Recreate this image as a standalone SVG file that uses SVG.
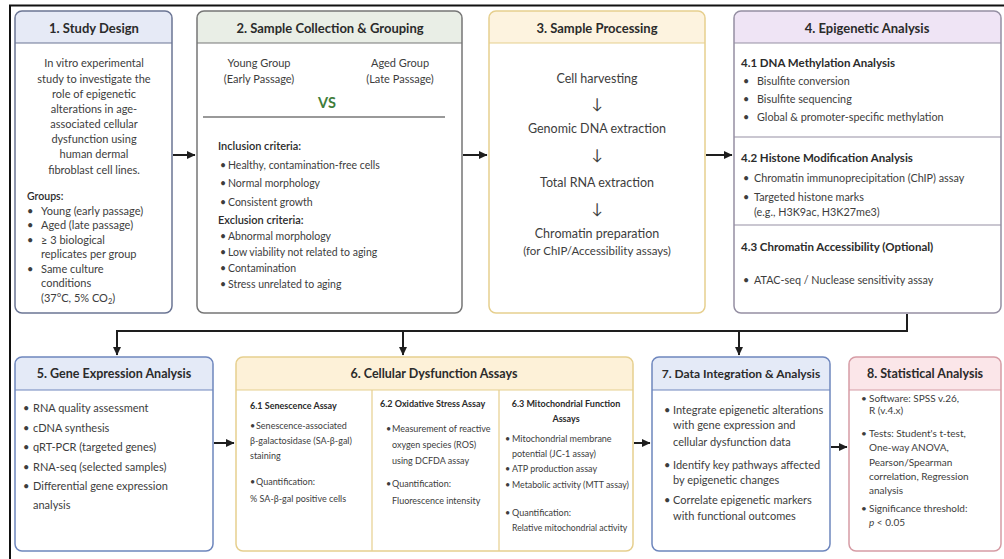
<svg xmlns="http://www.w3.org/2000/svg" width="1004" height="559" viewBox="0 0 1004 559">
<defs>
<marker id="ah" markerUnits="userSpaceOnUse" markerWidth="9" markerHeight="9" refX="8" refY="4.5" orient="auto">
<path d="M0,0.5 L8.5,4.5 L0,8.5 z" fill="#1e1e1e"/>
</marker>
<style>
text{font-family:Lato,"Open Sans","Liberation Sans",sans-serif;fill:#3d3d3d}
.ti{font-size:13px;font-weight:bold;fill:#2b2b2b;text-anchor:middle}
.tb{font-size:12.5px;font-weight:bold;fill:#2b2b2b;text-anchor:middle}
.c{text-anchor:middle}
.b1{font-size:11px}
.b2{font-size:10.5px}
.b3{font-size:12.5px}
.b4{font-size:10.8px}
.b5{font-size:11px}
.b7{font-size:11px}
.b8{font-size:10px}
.b6{font-size:9px}
.h{font-weight:bold;fill:#2b2b2b}
.box{fill:none;stroke-width:1.5}
.hl{stroke-width:1.2}
.con{stroke:#1e1e1e;stroke-width:2;fill:none}
</style>
</defs>
<rect width="1004" height="559" fill="#fff"/>
<path d="M10,559 V5.5 H1004" fill="none" stroke="#111" stroke-width="2"/>

<g id="connectors">
<line class="con" x1="173" y1="155" x2="195" y2="155" marker-end="url(#ah)"/>
<line class="con" x1="463" y1="155" x2="487" y2="155" marker-end="url(#ah)"/>
<line class="con" x1="706" y1="155" x2="732" y2="155" marker-end="url(#ah)"/>
<path class="con" d="M907,314 V331 H117 V355" marker-end="url(#ah)"/>
<line class="con" x1="403" y1="331" x2="403" y2="355" marker-end="url(#ah)"/>
<line class="con" x1="739" y1="331" x2="739" y2="355" marker-end="url(#ah)"/>
<line class="con" x1="214" y1="443" x2="234" y2="443" marker-end="url(#ah)"/>
<line class="con" x1="634" y1="443" x2="650" y2="443" marker-end="url(#ah)"/>
<line class="con" x1="831" y1="447" x2="847" y2="447" marker-end="url(#ah)"/>
</g>

<g id="n1">
<rect x="15" y="11" width="157" height="302" rx="7" fill="#fff"/>
<path d="M15,43 V18 A7,7 0 0 1 22,11 H165 A7,7 0 0 1 172,18 V43 Z" fill="#e6eaf6"/>
<line class="hl" x1="15" y1="43" x2="172" y2="43" stroke="#6b7594"/>
<rect class="box" x="15" y="11" width="157" height="302" rx="7" stroke="#6b7594"/>
<text class="ti" x="94" y="33">1. Study Design</text>
<g class="b1 c">
<text x="94" y="67">In vitro experimental</text>
<text x="94" y="83">study to investigate the</text>
<text x="94" y="98">role of epigenetic</text>
<text x="94" y="113">alterations in age-</text>
<text x="94" y="128">associated cellular</text>
<text x="94" y="143">dysfunction using</text>
<text x="94" y="158">human dermal</text>
<text x="94" y="174">fibroblast cell lines.</text>
</g>
<g class="b1">
<text x="27" y="200" style="font-weight:600;fill:#2b2b2b;font-size:10.5px">Groups:</text>
<text x="27" y="215">•</text><text x="41" y="215">Young (early passage)</text>
<text x="27" y="229">•</text><text x="41" y="229">Aged (late passage)</text>
<text x="27" y="244">•</text><text x="41" y="244">≥ 3 biological</text>
<text x="41" y="258">replicates per group</text>
<text x="27" y="273">•</text><text x="41" y="273">Same culture</text>
<text x="41" y="287">conditions</text>
<text x="41" y="302">(37°C, 5% CO<tspan font-size="7.5" dy="2">2</tspan><tspan dy="-2">)</tspan></text>
</g>
</g>

<g id="n2">
<rect x="197" y="11" width="265" height="302" rx="7" fill="#fff"/>
<path d="M197,43 V18 A7,7 0 0 1 204,11 H455 A7,7 0 0 1 462,18 V43 Z" fill="#e9eee6"/>
<line class="hl" x1="197" y1="43" x2="462" y2="43" stroke="#767676"/>
<rect class="box" x="197" y="11" width="265" height="302" rx="7" stroke="#767676"/>
<text class="ti" x="330" y="33">2. Sample Collection &amp; Grouping</text>
<g class="b1 c">
<text x="259" y="67">Young Group</text>
<text x="259" y="83">(Early Passage)</text>
<text x="400" y="67">Aged Group</text>
<text x="400" y="83">(Late Passage)</text>
</g>
<text x="327" y="108" class="c" style="font-size:14.5px;font-weight:bold;fill:#3f7d3a">VS</text>
<line x1="203" y1="117" x2="445" y2="117" stroke="#777" stroke-width="1.5"/>
<g class="b2">
<text x="218" y="150" style="font-size:11px;font-weight:600;fill:#2b2b2b">Inclusion criteria:</text>
<text x="220" y="169">•</text><text x="228" y="169">Healthy, contamination-free cells</text>
<text x="220" y="187">•</text><text x="228" y="187">Normal morphology</text>
<text x="220" y="206">•</text><text x="228" y="206">Consistent growth</text>
<text x="218" y="224" style="font-size:11px;font-weight:600;fill:#2b2b2b">Exclusion criteria:</text>
<text x="220" y="240">•</text><text x="228" y="240">Abnormal morphology</text>
<text x="220" y="256">•</text><text x="228" y="256">Low viability not related to aging</text>
<text x="220" y="272">•</text><text x="228" y="272">Contamination</text>
<text x="220" y="288">•</text><text x="228" y="288">Stress unrelated to aging</text>
</g>
</g>

<g id="n3">
<rect x="489" y="11" width="216" height="302" rx="7" fill="#fff"/>
<path d="M489,43 V18 A7,7 0 0 1 496,11 H698 A7,7 0 0 1 705,18 V43 Z" fill="#fdf3df"/>
<line class="hl" x1="489" y1="43" x2="705" y2="43" stroke="#e6cf8e"/>
<rect class="box" x="489" y="11" width="216" height="302" rx="7" stroke="#e6cf8e"/>
<text class="ti" x="597" y="33">3. Sample Processing</text>
<g class="b3 c">
<text x="597" y="83">Cell harvesting</text>
<text x="597" y="109" style="font-size:15px">↓</text>
<text x="597" y="133">Genomic DNA extraction</text>
<text x="597" y="160" style="font-size:15px">↓</text>
<text x="597" y="187">Total RNA extraction</text>
<text x="597" y="214" style="font-size:15px">↓</text>
<text x="597" y="238">Chromatin preparation</text>
<text x="597" y="255" style="font-size:11.5px">(for ChIP/Accessibility assays)</text>
</g>
</g>

<g id="n4">
<rect x="734" y="11" width="267" height="302" rx="7" fill="#fff"/>
<path d="M734,43 V18 A7,7 0 0 1 741,11 H994 A7,7 0 0 1 1001,18 V43 Z" fill="#efe4f5"/>
<line class="hl" x1="734" y1="43" x2="1001" y2="43" stroke="#958fa3"/>
<line class="hl" x1="734" y1="137" x2="1001" y2="137" stroke="#958fa3"/>
<line class="hl" x1="734" y1="225" x2="1001" y2="225" stroke="#958fa3"/>
<rect class="box" x="734" y="11" width="267" height="302" rx="7" stroke="#958fa3"/>
<text class="ti" x="867" y="33">4. Epigenetic Analysis</text>
<g class="b4">
<text x="741" y="67" class="h" style="font-size:11.5px">4.1 DNA Methylation Analysis</text>
<text x="743" y="85">•</text><text x="757" y="85">Bisulfite conversion</text>
<text x="743" y="103">•</text><text x="757" y="103">Bisulfite sequencing</text>
<text x="743" y="121">•</text><text x="757" y="121">Global &amp; promoter-specific methylation</text>
<text x="741" y="162" class="h" style="font-size:11.5px">4.2 Histone Modification Analysis</text>
<text x="743" y="182">•</text><text x="754" y="182">Chromatin immunoprecipitation (ChIP) assay</text>
<text x="743" y="201">•</text><text x="754" y="201">Targeted histone marks</text>
<text x="754" y="216">(e.g., H3K9ac, H3K27me3)</text>
<text x="741" y="251" class="h" style="font-size:11.5px">4.3 Chromatin Accessibility (Optional)</text>
<text x="743" y="284">•</text><text x="754" y="284">ATAC-seq / Nuclease sensitivity assay</text>
</g>
</g>

<g id="n5">
<rect x="15" y="357" width="198" height="194" rx="7" fill="#fff"/>
<path d="M15,390 V364 A7,7 0 0 1 22,357 H206 A7,7 0 0 1 213,364 V390 Z" fill="#e4eaf7"/>
<line class="hl" x1="15" y1="390" x2="213" y2="390" stroke="#6e86bd"/>
<rect class="box" x="15" y="357" width="198" height="194" rx="7" stroke="#6e86bd"/>
<text class="tb" x="114" y="378">5. Gene Expression Analysis</text>
<g class="b5">
<text x="23" y="412">•</text><text x="33" y="412">RNA quality assessment</text>
<text x="23" y="432">•</text><text x="33" y="432">cDNA synthesis</text>
<text x="23" y="451">•</text><text x="33" y="451">qRT-PCR (targeted genes)</text>
<text x="23" y="471">•</text><text x="33" y="471">RNA-seq (selected samples)</text>
<text x="23" y="490">•</text><text x="33" y="490">Differential gene expression</text>
<text x="33" y="509">analysis</text>
</g>
</g>

<g id="n6">
<rect x="236" y="357" width="397" height="194" rx="7" fill="#fff"/>
<path d="M236,390 V364 A7,7 0 0 1 243,357 H626 A7,7 0 0 1 633,364 V390 Z" fill="#fdf1d8"/>
<line class="hl" x1="236" y1="390" x2="633" y2="390" stroke="#e6cf8e"/>
<line class="hl" x1="372" y1="390" x2="372" y2="551" stroke="#e6cf8e"/>
<line class="hl" x1="499" y1="390" x2="499" y2="551" stroke="#e6cf8e"/>
<rect class="box" x="236" y="357" width="397" height="194" rx="7" stroke="#e6cf8e"/>
<text class="tb" x="434" y="378">6. Cellular Dysfunction Assays</text>
<g class="b6">
<text x="250" y="409" class="h">6.1 Senescence Assay</text>
<text x="250" y="429">•</text><text x="256" y="429">Senescence-associated</text>
<text x="250" y="444">β-galactosidase (SA-β-gal)</text>
<text x="250" y="459">staining</text>
<text x="250" y="485">•</text><text x="256" y="485">Quantification:</text>
<text x="250" y="502">% SA-β-gal positive cells</text>
<text x="380" y="407" class="h">6.2 Oxidative Stress Assay</text>
<text x="386" y="432">•</text><text x="392" y="432">Measurement of reactive</text>
<text x="392" y="448">oxygen species (ROS)</text>
<text x="392" y="464">using DCFDA assay</text>
<text x="386" y="487">•</text><text x="392" y="487">Quantification:</text>
<text x="392" y="504">Fluorescence intensity</text>
<text x="566" y="407" class="h c">6.3 Mitochondrial Function</text>
<text x="566" y="422" class="h c">Assays</text>
<text x="505" y="442">•</text><text x="512" y="442">Mitochondrial membrane</text>
<text x="512" y="457">potential (JC-1 assay)</text>
<text x="505" y="472">•</text><text x="512" y="472">ATP production assay</text>
<text x="505" y="488">•</text><text x="512" y="488" style="font-size:8.8px">Metabolic activity (MTT assay)</text>
<text x="505" y="516">•</text><text x="512" y="516">Quantification:</text>
<text x="512" y="531" style="font-size:8.7px">Relative mitochondrial activity</text>
</g>
</g>

<g id="n7">
<rect x="652" y="357" width="178" height="194" rx="7" fill="#fff"/>
<path d="M652,390 V364 A7,7 0 0 1 659,357 H823 A7,7 0 0 1 830,364 V390 Z" fill="#e4eaf7"/>
<line class="hl" x1="652" y1="390" x2="830" y2="390" stroke="#6e86bd"/>
<rect class="box" x="652" y="357" width="178" height="194" rx="7" stroke="#6e86bd"/>
<text class="tb" x="741" y="378" style="font-size:12px">7. Data Integration &amp; Analysis</text>
<g class="b7">
<text x="664" y="414">•</text><text x="673" y="414">Integrate epigenetic alterations</text>
<text x="673" y="429">with gene expression and</text>
<text x="673" y="446">cellular dysfunction data</text>
<text x="664" y="469">•</text><text x="673" y="469">Identify key pathways affected</text>
<text x="673" y="484">by epigenetic changes</text>
<text x="664" y="504">•</text><text x="673" y="504">Correlate epigenetic markers</text>
<text x="673" y="520">with functional outcomes</text>
</g>
</g>

<g id="n8">
<rect x="849" y="357" width="152" height="194" rx="7" fill="#fff"/>
<path d="M849,390 V364 A7,7 0 0 1 856,357 H994 A7,7 0 0 1 1001,364 V390 Z" fill="#fbe6e9"/>
<line class="hl" x1="849" y1="390" x2="1001" y2="390" stroke="#d69ca5"/>
<rect class="box" x="849" y="357" width="152" height="194" rx="7" stroke="#d69ca5"/>
<text class="tb" x="925" y="378">8. Statistical Analysis</text>
<g class="b8">
<text x="861" y="402">•</text><text x="869" y="402">Software: SPSS v.26,</text>
<text x="869" y="414">R (v.4.x)</text>
<text x="861" y="437">•</text><text x="869" y="437">Tests: Student's t-test,</text>
<text x="869" y="451">One-way ANOVA,</text>
<text x="869" y="466">Pearson/Spearman</text>
<text x="869" y="480">correlation, Regression</text>
<text x="869" y="494">analysis</text>
<text x="861" y="512">•</text><text x="869" y="512">Significance threshold:</text>
<text x="869" y="526"><tspan font-style="italic">p</tspan> &lt; 0.05</text>
</g>
</g>
</svg>
